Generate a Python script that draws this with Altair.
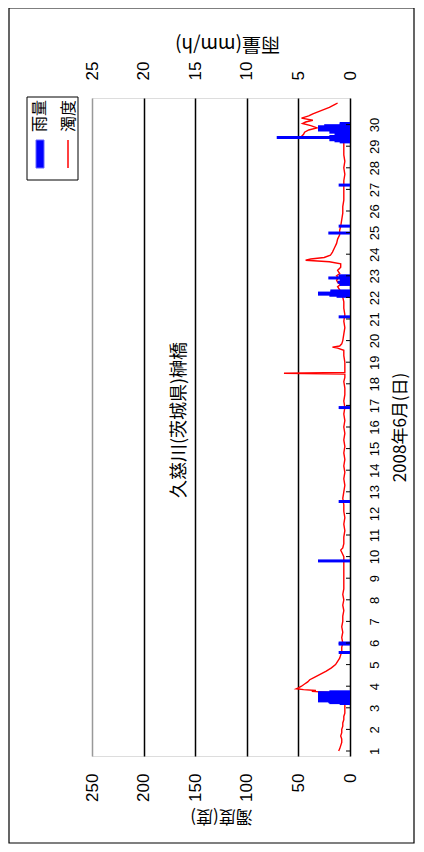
import altair as alt
import pandas as pd

# ---- data ----
turb_day = [1.00, 1.10, 1.25, 1.40, 1.55, 1.70, 1.85, 2.00, 2.15, 2.30, 2.45, 2.60, 2.75, 2.90,
            3.05, 3.20, 3.30, 3.38, 3.42, 3.50, 3.60, 3.70, 3.76, 3.80, 3.84, 3.88, 3.92, 4.00,
            4.10, 4.20, 4.30, 4.40, 4.55, 4.70, 4.85, 5.00, 5.15, 5.30, 5.45, 5.60, 5.80, 6.00,
            6.25, 6.50, 6.75, 7.00, 7.25, 7.50, 7.75, 8.00, 8.25, 8.50, 8.75, 9.00, 9.25, 9.50,
            9.75, 10.0, 10.2, 10.3, 10.4, 10.6, 10.9, 11.2, 11.5, 11.8, 12.1, 12.4, 12.7, 13.0,
            13.3, 13.6, 13.9, 14.2, 14.5, 14.8, 15.1, 15.4, 15.7, 16.0, 16.3, 16.6, 16.9, 17.2,
            17.5, 17.8, 18.1, 18.3, 18.45, 18.49, 18.53, 18.7, 19.0, 19.3, 19.55, 19.65, 19.70,
            19.75, 19.85, 20.0, 20.3, 20.6, 20.9, 21.2, 21.5, 21.8, 22.0, 22.15, 22.25, 22.35,
            22.5, 22.6, 22.7, 22.8, 22.9, 23.0, 23.1, 23.25, 23.4, 23.55, 23.65, 23.72, 23.78,
            23.85, 23.95, 24.1, 24.3, 24.5, 24.7, 24.9, 25.1, 25.3, 25.6, 25.9, 26.2, 26.5, 26.8,
            27.1, 27.4, 27.7, 28.0, 28.3, 28.6, 28.9, 29.2, 29.35, 29.40, 29.45, 29.55, 29.65,
            29.75, 29.85, 29.95, 30.05, 30.12, 30.2, 30.3, 30.4, 30.5, 30.65, 30.8, 30.95, 31.0]
turb_val = [11, 10, 9, 8, 8, 9, 8, 8, 7, 7, 6, 6, 5, 5,
            5, 5, 6, 6, 13, 13, 14, 15, 37, 33, 45, 52, 50, 47,
            44, 41, 39, 35, 29, 23, 18, 14, 12, 10, 9, 8, 8, 7,
            8, 7, 8, 7, 7, 6, 7, 6, 7, 6, 6, 6, 6, 6,
            6, 6, 8, 9, 7, 6, 6, 5, 6, 5, 6, 6, 7, 6,
            5, 6, 5, 6, 5, 6, 5, 6, 5, 6, 5, 6, 5, 6,
            5, 5, 6, 5, 5, 64, 5, 5, 5, 6, 6, 12, 17,
            10, 8, 7, 6, 5, 6, 5, 6, 6, 7, 9, 11, 10,
            12, 9, 12, 13, 11, 13, 10, 12, 9, 9, 20, 43, 38,
            25, 19, 17, 15, 13, 12, 10, 10, 9, 8, 7, 7, 6, 6,
            6, 6, 5, 6, 5, 6, 6, 6, 7, 48, 47, 45, 44,
            40, 32, 38, 46, 43, 36, 47, 40, 36, 28, 20, 14, 12]

rain_day = [3.20, 3.24, 3.28, 3.32, 3.36, 3.40, 3.50, 3.54, 3.58, 3.62, 3.66, 3.70, 3.74,
            5.56, 5.95, 6.00, 9.80, 12.55, 16.90, 21.10,
            22.05, 22.10, 22.15, 22.20, 22.25, 22.30,
            22.60, 22.70, 22.80, 22.90, 22.95, 23.00,
            24.98, 25.30, 27.20,
            29.20, 29.25, 29.30, 29.40, 29.45, 29.55, 29.65, 29.75, 29.80, 29.85, 29.90, 29.95,
            30.00, 30.05]
rain_mm = [1.0, 2.0, 2.1, 3.1, 3.0, 3.1, 3.1, 3.0, 3.1, 3.1, 3.0, 3.1, 2.0,
           1.1, 1.1, 1.1, 3.1, 1.1, 1.1, 1.1,
           1.3, 2.0, 3.1, 3.1, 1.9, 1.9,
           1.0, 1.2, 1.0, 2.1, 1.0, 1.1,
           2.1, 1.1, 1.1,
           1.0, 1.5, 2.0, 7.1, 2.0, 1.5, 2.0, 3.1, 3.1, 2.0, 3.1, 2.5,
           1.0, 1.0]

day_ticks = list(range(1, 31))
turb_ticks = [0, 50, 100, 150, 200, 250]
rain_ticks = [0, 5, 10, 15, 20, 25]

title_text = "久慈川(茨城県)榊橋"
legend_labels = ["雨量", "濁度"]

W, H = 258, 658
JP = "Noto Sans CJK JP"
NUM = "Liberation Sans"

turb = pd.DataFrame({"day": turb_day, "turb": turb_val})
rain = pd.DataFrame({"day": rain_day, "rain": rain_mm})
ticks = pd.DataFrame({"day": day_ticks})

yscale = alt.Scale(domain=[1, 31], nice=False, zero=False)
yaxis = alt.Axis(orient="right", values=day_ticks, labelAngle=270, labelAlign="center",
                 labelBaseline="top", labelPadding=18, ticks=False, domain=False, grid=False,
                 labelFont=NUM, labelFontSize=13, labelColor="black",
                 title="2008年6月(日)", titleAngle=270, titleX=50, titleY=329,
                 titleAlign="center", titleBaseline="middle", titleFont=JP,
                 titleFontSize=17, titleFontWeight="normal", titleColor="black")

xturb = alt.X("turb:Q", scale=alt.Scale(domain=[0, 250], reverse=True, nice=False, zero=True),
              axis=alt.Axis(orient="bottom", values=turb_ticks, labelAngle=270, labelAlign="right",
                            labelBaseline="middle", labelPadding=17, ticks=False, domain=False,
                            grid=True,
                            gridColor={"condition": {"test": "datum.value == 250", "value": "#999999"},
                                       "value": "black"},
                            gridWidth=1.5, gridOpacity=1,
                            labelFont=NUM, labelFontSize=17, labelColor="black",
                            title="濁度(度)", titleAngle=180, titleX=129, titleY=59,
                            titleAlign="center", titleBaseline="middle", titleFont=JP,
                            titleFontSize=17, titleFontWeight="normal", titleColor="black"))

xrain = alt.X("rain:Q", scale=alt.Scale(domain=[0, 25], reverse=True, nice=False, zero=True),
              axis=alt.Axis(orient="top", values=rain_ticks, labelAngle=270, labelAlign="left",
                            labelBaseline="middle", labelPadding=18, ticks=False, domain=False,
                            grid=False, labelFont=NUM, labelFontSize=17, labelColor="black",
                            title="雨量(mm/h)", titleAngle=180, titleX=135, titleY=-55,
                            titleAlign="center", titleBaseline="middle", titleFont=JP,
                            titleFontSize=19, titleFontWeight="normal", titleColor="black"))

rain_layer = alt.Chart(rain).mark_bar(orient="horizontal", size=3, color="#0000ff").encode(
    x=xrain, y=alt.Y("day:Q", scale=yscale, axis=yaxis))

turb_layer = alt.Chart(turb).mark_line(color="#ff0000", strokeWidth=1.4).encode(
    x=xturb, y=alt.Y("day:Q", scale=yscale, axis=yaxis), order="day:Q")

tick_layer = alt.Chart(ticks).mark_rule(color="black", strokeWidth=1).encode(
    y=alt.Y("day:Q", scale=yscale, axis=yaxis), x=alt.value(W), x2=alt.value(W - 4))

title_layer = alt.Chart(pd.DataFrame({"t": [title_text]})).mark_text(
    angle=270, font=JP, fontSize=18, align="center", baseline="middle", color="black").encode(
    text="t:N", x=alt.value(88), y=alt.value(322))

# legend (drawn by hand, rotated like the reference)
leg_box = alt.Chart(pd.DataFrame({"a": [0]})).mark_rect(fill="white", stroke="black", strokeWidth=1).encode(
    x=alt.value(-65), x2=alt.value(-14), y=alt.value(-1), y2=alt.value(82))
leg_rain_sym = alt.Chart(pd.DataFrame({"a": [0]})).mark_rect(fill="#0000ff", stroke="#6666ff", strokeWidth=1).encode(
    x=alt.value(-56), x2=alt.value(-48), y=alt.value(42), y2=alt.value(70))
leg_turb_sym = alt.Chart(pd.DataFrame({"a": [0]})).mark_rule(color="#ff0000", strokeWidth=1.5).encode(
    x=alt.value(-24), y=alt.value(42), y2=alt.value(70))
leg_text = alt.Chart(pd.DataFrame({"t": legend_labels, "xp": [-52, -23]})).mark_text(
    angle=270, font=JP, fontSize=16, align="right", baseline="middle", color="black").encode(
    text="t:N", x=alt.X("xp:Q", scale=None), y=alt.value(2))

border = alt.Chart(pd.DataFrame({"a": [0]})).mark_rect(fill=None, stroke="black", strokeWidth=1.2).encode(
    x=alt.value(-83), x2=alt.value(322), y=alt.value(-90), y2=alt.value(745))

chart = alt.layer(
    border, turb_layer, rain_layer, tick_layer, title_layer,
    leg_box, leg_rain_sym, leg_turb_sym, leg_text
).resolve_scale(x="independent").properties(
    width=W, height=H,
    autosize=alt.AutoSizeParams(type="none"),
    padding={"left": 84, "top": 90, "right": 66, "bottom": 88},
).configure_view(stroke="black", strokeWidth=1.5).configure(background="white")

chart.save("out.html", embed_options={"renderer": "svg", "actions": False})
